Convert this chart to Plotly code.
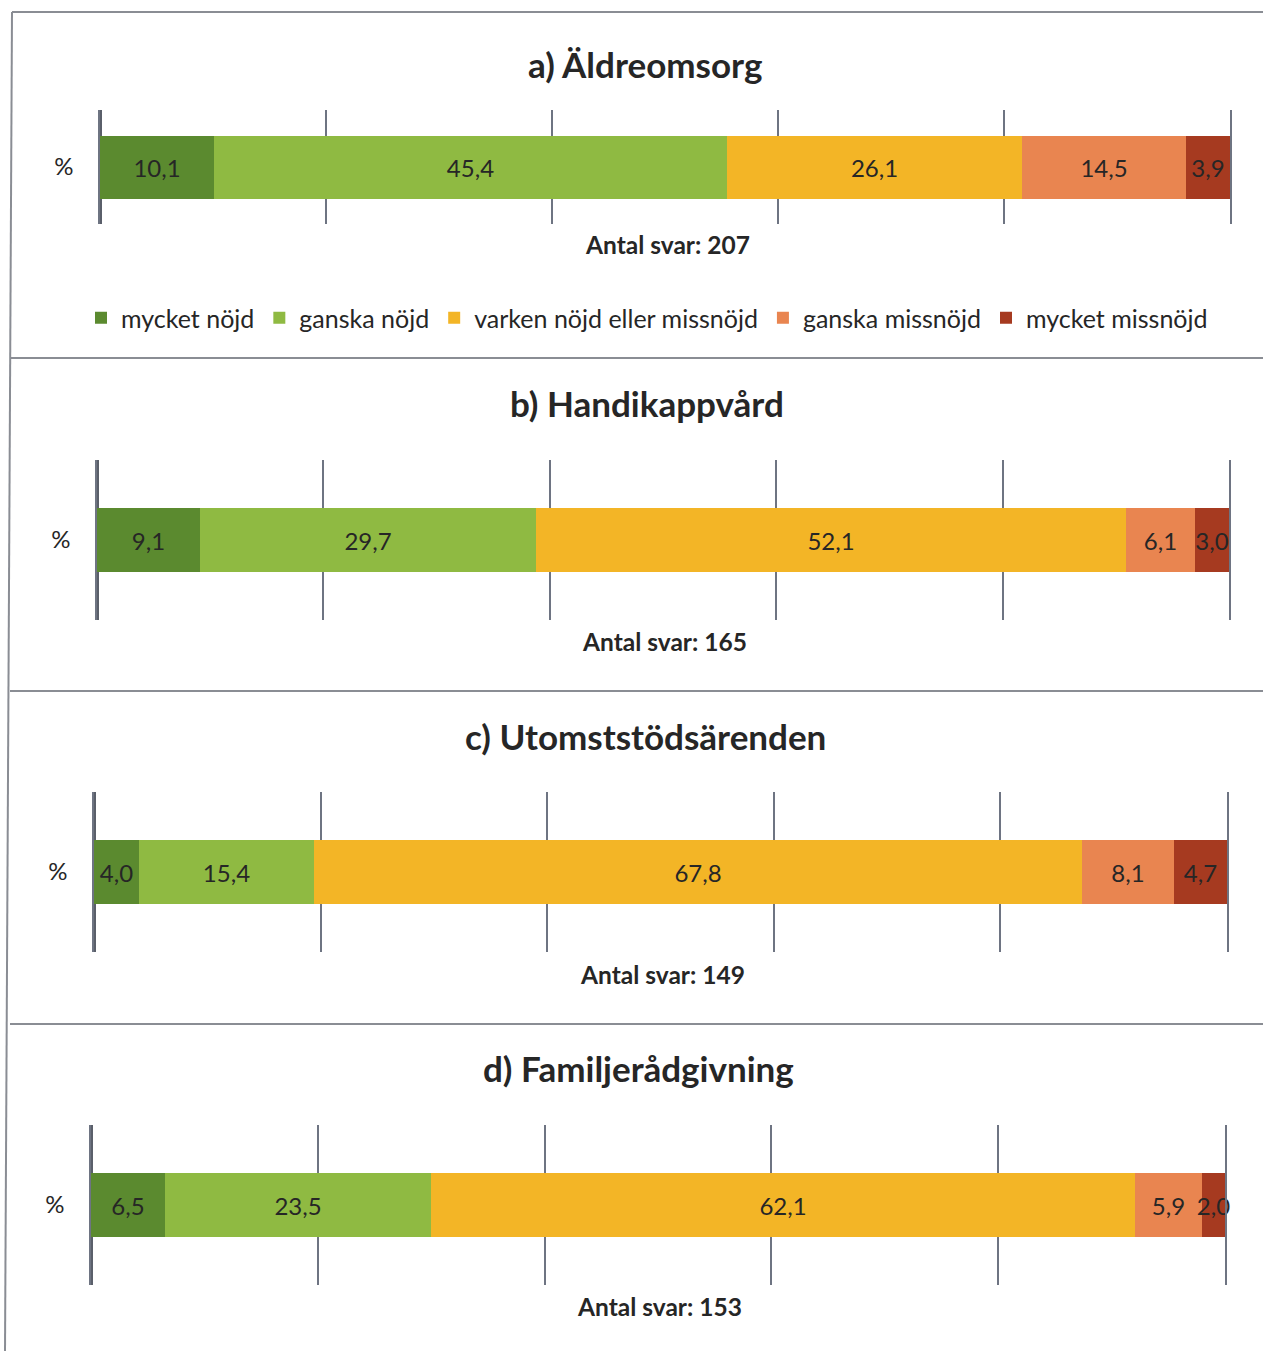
import plotly.graph_objects as go

# ---- data ----
panel_titles = ["a) Äldreomsorg", "b) Handikappvård", "c) Utomststödsärenden", "d) Familjerådgivning"]
answers = [207, 165, 149, 153]
categories = ["mycket nöjd", "ganska nöjd", "varken nöjd eller missnöjd", "ganska missnöjd", "mycket missnöjd"]
row_label = ["%"]
mycket_nojd = [10.1, 9.1, 4.0, 6.5]
ganska_nojd = [45.4, 29.7, 15.4, 23.5]
varken = [26.1, 52.1, 67.8, 62.1]
ganska_missnojd = [14.5, 6.1, 8.1, 5.9]
mycket_missnojd = [3.9, 3.0, 4.7, 2.0]
series = [mycket_nojd, ganska_nojd, varken, ganska_missnojd, mycket_missnojd]

# ---- styles / layout ----
colors = ["#5b8a2f", "#8fba42", "#f3b526", "#e98550", "#a63a20"]
W, H = 1263, 1351
# plot areas in pixels: (x0, x1, y0_top, y1_bottom)
areas = [(100, 1230, 110, 224), (97, 1229, 460, 620), (94, 1227, 792, 952), (91, 1225, 1125, 1285)]
bar_px = [63, 64, 64, 64]
title_pos = [(645, 64), (647, 403), (645, 736), (638, 1068)]
antal_pos = [(667, 245), (664, 641), (662, 974), (659, 1306)]
FONT = "Lato"
TXT = "#262626"

def px(x): return x / W
def py(y): return 1 - y / H

fig = go.Figure()
annotations = []
for p in range(4):
    x0, x1, yt, yb = areas[p]
    xa = "x" if p == 0 else f"x{p+1}"
    ya = "y" if p == 0 else f"y{p+1}"
    width = bar_px[p] / (yb - yt)
    for s, (name, col) in enumerate(zip(categories, colors)):
        v = series[s][p]
        fig.add_trace(go.Bar(
            y=row_label, x=[v], orientation="h", name=name,
            marker=dict(color=col, line=dict(width=0)),
            width=width,
            text=[f"{v:.1f}".replace(".", ",")],
            textposition="inside", insidetextanchor="middle",
            constraintext="none", textangle=0, cliponaxis=False,
            textfont=dict(family=FONT, size=24, color=TXT),
            xaxis=xa, yaxis=ya, showlegend=(p == 0), legendgroup=name,
            hoverinfo="skip",
        ))
    xkey = "xaxis" if p == 0 else f"xaxis{p+1}"
    ykey = "yaxis" if p == 0 else f"yaxis{p+1}"
    fig.update_layout({
        xkey: dict(domain=[px(x0), px(x1)], range=[0, 100], dtick=20, tick0=0,
                   showgrid=True, gridcolor="#6e7482", gridwidth=1.5,
                   zeroline=True, zerolinecolor="#5a5f6a", zerolinewidth=3,
                   showticklabels=False, ticks="", anchor=ya, fixedrange=True),
        ykey: dict(domain=[py(yb), py(yt)], type="category", range=[-0.5, 0.5],
                   showgrid=False, zeroline=False, ticks="",
                   showline=True, mirror=True, linecolor="#6e7482", linewidth=1.5,
                   tickfont=dict(family=FONT, size=24, color=TXT),
                   ticklabelstandoff=20, anchor=xa, fixedrange=True),
    })
    tx, ty = title_pos[p]
    annotations.append(dict(x=px(tx), y=py(ty), xref="paper", yref="paper",
                            text=f"<b>{panel_titles[p]}</b>", showarrow=False,
                            xanchor="center", yanchor="middle",
                            font=dict(family=FONT, size=35, color=TXT)))
    ax_, ay_ = antal_pos[p]
    annotations.append(dict(x=px(ax_), y=py(ay_), xref="paper", yref="paper",
                            text=f"<b>Antal svar: {answers[p]}</b>", showarrow=False,
                            xanchor="center", yanchor="middle",
                            font=dict(family=FONT, size=24.5, color=TXT)))

shapes = []
line = dict(color="#8a8d94", width=2)
shapes.append(dict(type="line", xref="paper", yref="paper", x0=px(12), x1=1, y0=py(12), y1=py(12), line=line))
for y in [358, 691, 1024]:
    shapes.append(dict(type="line", xref="paper", yref="paper", x0=px(10), x1=1, y0=py(y), y1=py(y), line=line))
shapes.append(dict(type="line", xref="paper", yref="paper", x0=px(12), x1=px(5), y0=py(12), y1=0, line=line))

fig.update_layout(
    width=W, height=H, autosize=False,
    margin=dict(l=0, r=0, t=0, b=0),
    paper_bgcolor="white", plot_bgcolor="white",
    barmode="stack", bargap=0,
    uniformtext=dict(minsize=24, mode="show"),
    annotations=annotations, shapes=shapes,
    legend=dict(orientation="h", x=px(647), xanchor="center", y=py(318), yanchor="middle",
                font=dict(family=FONT, size=25, color=TXT), itemwidth=30,
                itemsizing="constant", traceorder="normal", bgcolor="rgba(0,0,0,0)"),
    font=dict(family=FONT),
)

fig.write_html("out.html")
